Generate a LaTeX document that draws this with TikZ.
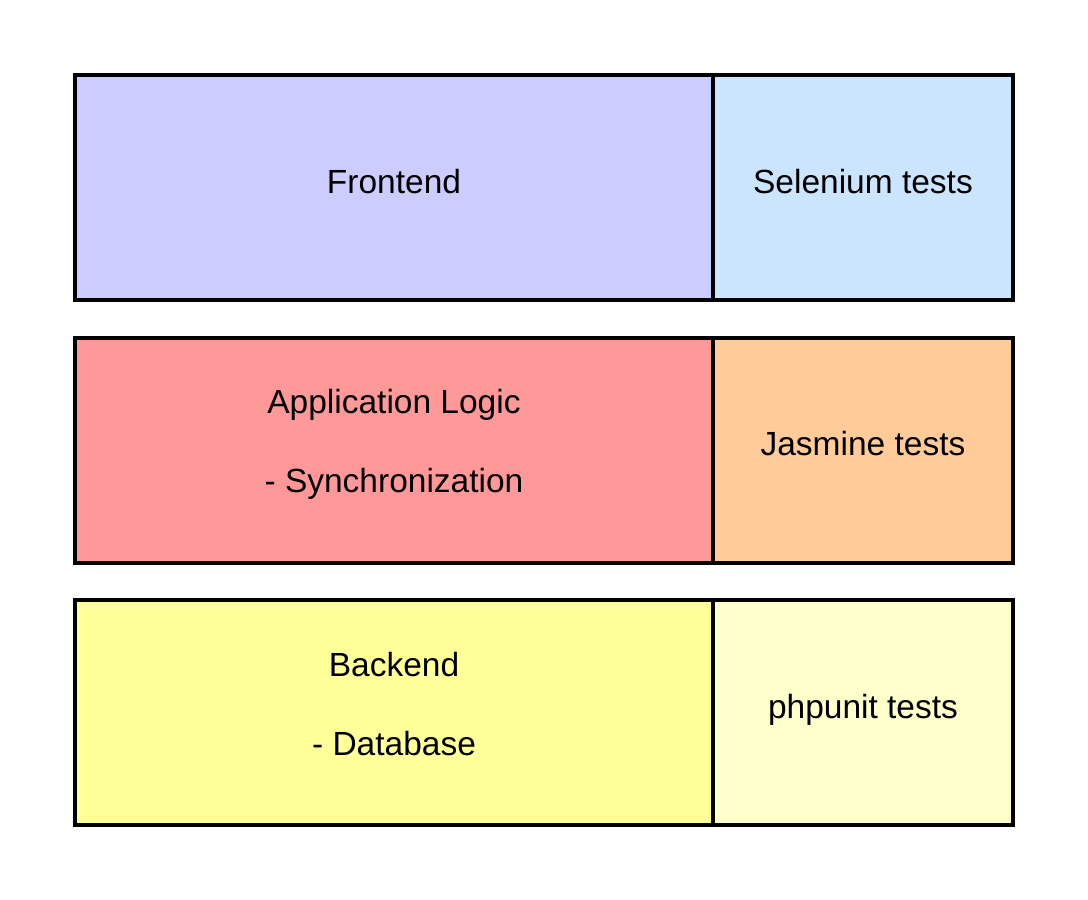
\documentclass[tikz,border=0pt]{standalone}
\usepackage{fontspec}
\setmainfont{Liberation Sans}
\usepackage{xcolor}
\usetikzlibrary{positioning}
\definecolor{frontcol}{HTML}{CCCCFF}
\definecolor{selcol}{HTML}{CCE5FF}
\definecolor{logiccol}{HTML}{FF9999}
\definecolor{jascol}{HTML}{FFCC99}
\definecolor{backcol}{HTML}{FFFF99}
\definecolor{phpcol}{HTML}{FFFFCC}
\tikzset{%
	layer/.style={draw, rectangle, line width=4pt, outer sep=0pt,%
		minimum width=638pt, minimum height=225pt},
	tests/.style={layer, minimum width=300pt},
	caption/.style={anchor=base, inner sep=0pt, font=\fontsize{33.5}{40}\selectfont}
}
\begin{document}
\begin{tikzpicture}[x=1pt, y=-1pt]
	\useasboundingbox (0,0) rectangle (1088,900);
	\node[layer, fill=frontcol, anchor=north west] (front) at (75,75) {};
	\node[tests, fill=selcol, right=0 of front] (sel) {};
	\node[layer, fill=logiccol, below=37.5pt of front] (logic) {};
	\node[tests, fill=jascol, right=0 of logic] (jas) {};
	\node[layer, fill=backcol, below=37.5pt of logic] (back) {};
	\node[tests, fill=phpcol, right=0 of back] (php) {};

	\node[caption] (fronttxt) at ([yshift=-5.5pt]front.center) {Frontend};
	\node[caption] (seltxt) at ([yshift=-5.5pt]sel.center) {Selenium tests};
	\node[caption] (logictxt) at ([yshift=36.5pt]logic.center) {Application Logic};
	\node[caption] (synctxt) at ([yshift=-42.5pt]logic.center) {- Synchronization};
	\node[caption] (jastxt) at ([yshift=-5.5pt]jas.center) {Jasmine tests};
	\node[caption] (backtxt) at ([yshift=36.5pt]back.center) {Backend};
	\node[caption] (dbtxt) at ([yshift=-42.5pt]back.center) {- Database};
	\node[caption] (phptxt) at ([yshift=-5.5pt]php.center) {phpunit tests};
\end{tikzpicture}
\end{document}
